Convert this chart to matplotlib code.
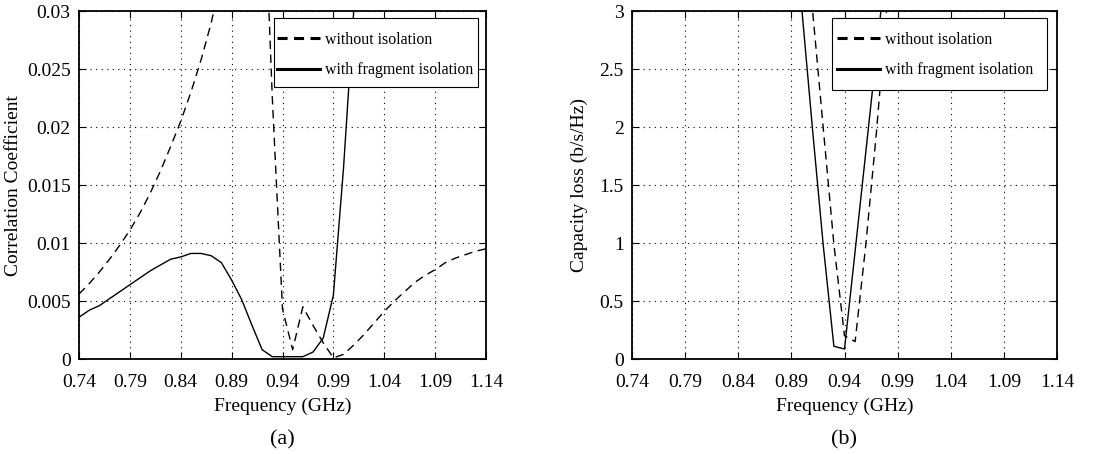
#!/usr/bin/env python3

import numpy as np
import matplotlib
matplotlib.use("Agg")
import matplotlib.pyplot as plt
from matplotlib.patches import Rectangle

plt.rcParams['font.family'] = ['Liberation Serif', 'DejaVu Serif']
plt.rcParams['mathtext.fontset'] = 'stix'

# (a) correlation coefficient
freq_a_wo = [0.74, 0.75, 0.76, 0.77, 0.78, 0.79, 0.80, 0.81, 0.82, 0.83, 0.84,
             0.85, 0.86, 0.87, 0.88, 0.89, 0.90, 0.91, 0.92, 0.93, 0.94, 0.95,
             0.96, 0.97, 0.98, 0.99, 1.00, 1.01, 1.02, 1.03, 1.04, 1.05, 1.06,
             1.07, 1.08, 1.09, 1.10, 1.11, 1.12, 1.13, 1.14]
corr_wo = [0.0056, 0.0065, 0.0075, 0.0086, 0.0098, 0.0111, 0.0126, 0.0143,
           0.0162, 0.0183, 0.0205, 0.0230, 0.0258, 0.0290, 0.0330, 0.0380,
           0.0450, 0.0500, 0.0450, 0.0225, 0.0043, 0.0008, 0.0045, 0.0029,
           0.0014, 0.0001, 0.0004, 0.0012, 0.0021, 0.0031, 0.0041, 0.0050,
           0.0058, 0.0066, 0.0072, 0.0077, 0.0083, 0.0087, 0.0090, 0.0093,
           0.0095]

freq_a_w = [0.74, 0.75, 0.76, 0.77, 0.78, 0.79, 0.80, 0.81, 0.82, 0.83, 0.84,
            0.85, 0.86, 0.87, 0.88, 0.89, 0.90, 0.91, 0.92, 0.93, 0.94, 0.95,
            0.96, 0.97, 0.98, 0.99, 1.00, 1.01, 1.02]
corr_w = [0.0036, 0.0042, 0.0046, 0.0052, 0.0058, 0.0064, 0.0070, 0.0076,
          0.0081, 0.0086, 0.0088, 0.0091, 0.0091, 0.0089, 0.0083, 0.0068,
          0.0051, 0.0029, 0.0008, 0.0002, 0.0002, 0.0002, 0.0002, 0.0006,
          0.0018, 0.0055, 0.0165, 0.0300, 0.0450]

# (b) capacity loss
freq_b_wo = [0.89, 0.90, 0.91, 0.92, 0.93, 0.94, 0.95, 0.96, 0.97, 0.98, 0.99]
cap_wo = [5.0, 4.0, 3.0, 1.99, 0.99, 0.20, 0.15, 0.98, 1.95, 3.05, 4.0]

freq_b_w = [0.88, 0.89, 0.90, 0.91, 0.92, 0.93, 0.94, 0.95, 0.96, 0.97, 0.98]
cap_w = [5.0, 4.0, 3.0, 1.97, 0.98, 0.11, 0.086, 0.93, 1.78, 2.63, 3.5]

xticks = [0.74, 0.79, 0.84, 0.89, 0.94, 0.99, 1.04, 1.09, 1.14]
yticks_a = [0, 0.005, 0.01, 0.015, 0.02, 0.025, 0.03]
yticklabels_a = ['0', '0.005', '0.01', '0.015', '0.02', '0.025', '0.03']
yticks_b = [0, 0.5, 1, 1.5, 2, 2.5, 3]
yticklabels_b = ['0', '0.5', '1', '1.5', '2', '2.5', '3']

fig = plt.figure(figsize=(11.15, 4.54), dpi=100)
W, H = 1115, 454
ax1 = fig.add_axes([79 / W, (H - 359) / H, 407 / W, 348 / H])
ax2 = fig.add_axes([632 / W, (H - 359) / H, 425 / W, 348 / H])


def style(ax, yticks, ylabels, ylabel, ylim, cap, ylab_x, box, leg_x):
    ax.set_xlim(0.74, 1.14)
    ax.set_ylim(*ylim)
    ax.set_xticks(xticks)
    ax.set_xticklabels(['%.2f' % t for t in xticks])
    ax.set_yticks(yticks)
    ax.set_yticklabels(ylabels)
    ax.tick_params(direction='in', top=True, right=True, length=5, width=0.8,
                   labelsize=14, pad=6)
    ax.tick_params(axis='x', pad=11)
    ax.grid(True, linestyle=(0, (1, 4)), color='black', linewidth=0.8)
    for s in ax.spines.values():
        s.set_linewidth(1.3)
    ax.set_xlabel('Frequency (GHz)', fontsize=14)
    ax.xaxis.set_label_coords(0.5, -0.11)
    ax.set_ylabel(ylabel, fontsize=14)
    ax.yaxis.set_label_coords(ylab_x, 0.5)
    ax.text(0.5, -0.233, cap, transform=ax.transAxes, ha='center',
            va='center', fontsize=16)
    # legend box (white, thin black edge) drawn under the legend entries
    x0, y0, x1, y1 = box
    ax.add_patch(Rectangle((x0, y0), x1 - x0, y1 - y0, transform=ax.transAxes,
                           facecolor='white', edgecolor='black', lw=0.8,
                           zorder=4.5, clip_on=False))
    leg = ax.legend(loc='upper left', bbox_to_anchor=(leg_x, 0.972),
                    fontsize=11.4, frameon=False, handlelength=2.7,
                    handletextpad=0.35, labelspacing=0.9, borderpad=0.7,
                    borderaxespad=0)
    leg.set_zorder(5)
    hl = leg.get_lines()
    for line in hl:
        line.set_linewidth(2.2)
    hl[0].set_dashes((3.3, 2.1))


ax1.plot(freq_a_wo, corr_wo, 'k--', lw=1.0, dashes=(6, 4),
         label='without isolation')
ax1.plot(freq_a_w, corr_w, 'k-', lw=1.0, label='with fragment isolation')
style(ax1, yticks_a, yticklabels_a, 'Correlation Coefficient', (0, 0.03),
      '(a)', -0.14, (0.479, 0.782, 0.980, 0.980), 0.4595)

ax2.plot(freq_b_wo, cap_wo, 'k--', lw=1.0, dashes=(6, 4),
         label='without isolation')
ax2.plot(freq_b_w, cap_w, 'k-', lw=1.0, label='with fragment isolation')
style(ax2, yticks_b, yticklabels_b, 'Capacity loss (b/s/Hz)', (0, 3),
      '(b)', -0.1035, (0.4706, 0.773, 0.9765, 0.980), 0.4565)

fig.savefig('out.png', dpi=100)
